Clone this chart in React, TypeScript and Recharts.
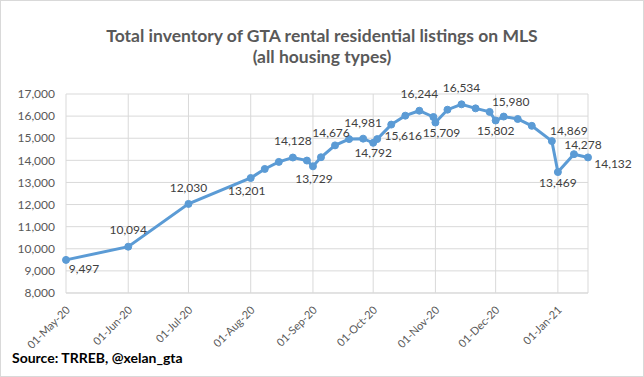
import { LineChart, Line, XAxis, YAxis, CartesianGrid, LabelList } from "recharts";

// Snapshot dates (yyyy-mm-dd) and total rental inventory on MLS
const snapshotDates = [
  "2020-05-01", "2020-06-01", "2020-07-01", "2020-08-01", "2020-08-08", "2020-08-15",
  "2020-08-22", "2020-08-29", "2020-09-01", "2020-09-05", "2020-09-12", "2020-09-19",
  "2020-09-26", "2020-10-01", "2020-10-03", "2020-10-10", "2020-10-17", "2020-10-24",
  "2020-10-31", "2020-11-01", "2020-11-07", "2020-11-14", "2020-11-21", "2020-11-28",
  "2020-12-01", "2020-12-05", "2020-12-12", "2020-12-19", "2020-12-29", "2021-01-01",
  "2021-01-09", "2021-01-16",
];
const inventory = [
  9497, 10094, 12030, 13201, 13610, 13930,
  14128, 13990, 13729, 14140, 14676, 14960,
  14981, 14792, 14960, 15616, 16020, 16244,
  15960, 15709, 16290, 16534, 16350, 16190,
  15802, 15980, 15870, 15560, 14869, 13469,
  14278, 14132,
];
// which points carry a data label in the original
const labelledDates = [
  "2020-05-01", "2020-06-01", "2020-07-01", "2020-08-01", "2020-08-22", "2020-09-01",
  "2020-09-12", "2020-09-26", "2020-10-01", "2020-10-10", "2020-10-24", "2020-11-01",
  "2020-11-14", "2020-12-01", "2020-12-05", "2020-12-29", "2021-01-01", "2021-01-09",
  "2021-01-16",
];
const monthTicks = [
  "2020-05-01", "2020-06-01", "2020-07-01", "2020-08-01", "2020-09-01",
  "2020-10-01", "2020-11-01", "2020-12-01", "2021-01-01",
];
const yTicks = [8000, 9000, 10000, 11000, 12000, 13000, 14000, 15000, 16000, 17000];

const MONTHS = ["Jan", "Feb", "Mar", "Apr", "May", "Jun", "Jul", "Aug", "Sep", "Oct", "Nov", "Dec"];
const FONT = "Lato, 'Open Sans', sans-serif";
const BLUE = "#5B9BD5";

const toTs = (d: string) => Date.parse(d + "T00:00:00Z");

const fmtDate = (ts: number) => {
  const d = new Date(ts);
  const dd = String(d.getUTCDate()).padStart(2, "0");
  const yy = String(d.getUTCFullYear()).slice(2);
  return `${dd}-${MONTHS[d.getUTCMonth()]}-${yy}`;
};

const fmtNum = (v: number) => v.toLocaleString("en-US");

// where each label sits relative to its point (dx, dy of text centre)
const labelShift: Record<string, [number, number]> = {
  "2020-05-01": [18, 9],
  "2020-06-01": [0, -17],
  "2020-07-01": [0, -16],
  "2020-08-01": [-4, 13],
  "2020-08-22": [0, -17],
  "2020-09-01": [1, 12],
  "2020-09-12": [-4, -13],
  "2020-09-26": [0, -16],
  "2020-10-01": [0, 10],
  "2020-10-10": [12, 11],
  "2020-10-24": [0, -17],
  "2020-11-01": [6, 10],
  "2020-11-14": [0, -17],
  "2020-12-01": [0, 10],
  "2020-12-05": [7, -15],
  "2020-12-29": [17, -10],
  "2021-01-01": [0, 11],
  "2021-01-09": [9, -9],
  "2021-01-16": [25, 6],
};

const data = snapshotDates.map((d, i) => ({
  date: d,
  t: toTs(d),
  value: inventory[i],
  label: labelledDates.includes(d) ? fmtNum(inventory[i]) : null,
}));

const PointLabel = (props: any) => {
  const { x, y, value, index } = props;
  if (value == null) return null;
  const shift = labelShift[data[index].date] || [0, -15];
  return (
    <text
      x={x + shift[0]}
      y={y + shift[1]}
      dy="0.35em"
      textAnchor="middle"
      fill="#404040"
      fontSize={12}
      fontFamily={FONT}
    >
      {value}
    </text>
  );
};

const DateTick = (props: any) => {
  const { x, y, payload } = props;
  return (
    <g transform={`translate(${x + 2},${y + 7})`}>
      <text
        x={0}
        y={0}
        dy="0.35em"
        textAnchor="end"
        fill="#595959"
        fontSize={11}
        fontFamily={FONT}
        transform="rotate(-45)"
      >
        {fmtDate(payload.value)}
      </text>
    </g>
  );
};

export default function App() {
  return (
    <div style={{ position: "absolute", left: 0, top: 0, width: 644, height: 377, background: "#fff" }}>
      <LineChart
        width={644}
        height={377}
        data={data}
        margin={{ top: 94, right: 56, bottom: 0, left: 6 }}
      >
        <CartesianGrid stroke="#d9d9d9" />
        <XAxis
          dataKey="t"
          type="number"
          domain={["dataMin", "dataMax"]}
          ticks={monthTicks.map(toTs)}
          tick={<DateTick />}
          tickLine={false}
          axisLine={{ stroke: "#d9d9d9" }}
          height={84}
          interval={0}
        />
        <YAxis
          domain={[8000, 17000]}
          ticks={yTicks}
          tickFormatter={fmtNum}
          tick={{ fill: "#595959", fontSize: 12, fontFamily: FONT }}
          tickLine={false}
          axisLine={false}
          tickMargin={5}
          width={60}
          interval={0}
        />
        <Line
          dataKey="value"
          stroke={BLUE}
          strokeWidth={3}
          dot={{ r: 3.5, fill: BLUE, stroke: BLUE, strokeWidth: 1 }}
          isAnimationActive={false}
        >
          <LabelList dataKey="label" content={<PointLabel />} />
        </Line>
      </LineChart>
      <div
        style={{
          position: "absolute",
          left: 0,
          top: 25,
          width: 644,
          textAlign: "center",
          fontFamily: FONT,
          fontWeight: 700,
          fontSize: 17.5,
          lineHeight: "21px",
          color: "#595959",
        }}
      >
        Total inventory of GTA rental residential listings on MLS
        <br />
        (all housing types)
      </div>
      <div
        style={{
          position: "absolute",
          left: 12,
          top: 349,
          fontFamily: FONT,
          fontWeight: 700,
          fontSize: 14,
          color: "#000",
        }}
      >
        Source: TRREB, @xelan_gta
      </div>
      <div
        style={{
          position: "absolute",
          left: 0,
          top: 0,
          width: 644,
          height: 377,
          boxSizing: "border-box",
          border: "1px solid #d9d9d9",
          pointerEvents: "none",
        }}
      />
    </div>
  );
}
